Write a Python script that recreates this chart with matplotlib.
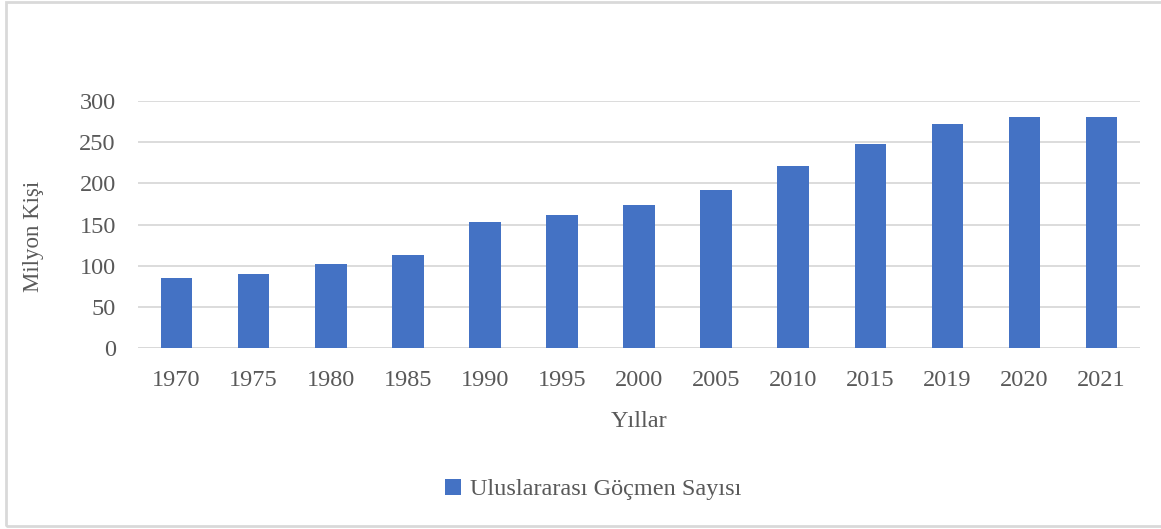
import matplotlib.pyplot as plt
from matplotlib.patches import Rectangle

years = ['1970', '1975', '1980', '1985', '1990', '1995', '2000',
         '2005', '2010', '2015', '2019', '2020', '2021']
migrants = [84.5, 90.4, 101.9, 113.2, 153.0, 161.3, 173.2,
            191.4, 220.8, 247.6, 272.0, 280.6, 281.0]

plt.rcParams['font.family'] = ['Liberation Serif', 'DejaVu Serif']
txt = '#595959'
blue = '#4472C4'
fs = 17.5

fig = plt.figure(figsize=(11.61, 5.29), dpi=100)
ax = fig.add_axes([0.1189, 0.342, 0.8631, 0.467])

x = range(len(years))
ax.bar(x, migrants, width=0.41, color=blue, label='Uluslararası Göçmen Sayısı', zorder=3)

ax.set_xlim(-0.5, len(years) - 0.5)
ax.set_ylim(0, 300)
ax.set_yticks(range(0, 301, 50))
ax.set_xticks(list(x))
ax.set_xticklabels(years)
ax.yaxis.grid(True, color='#D9D9D9', linewidth=1.3, zorder=0)
for s in ax.spines.values():
  s.set_visible(False)
ax.tick_params(axis='both', length=0, labelsize=fs, labelcolor=txt)
ax.tick_params(axis='x', pad=16)
ax.tick_params(axis='y', pad=16)
ax.axhline(0, color='#D9D9D9', linewidth=1.3, zorder=2)

ax.set_xlabel('Yıllar', fontsize=fs, color=txt, labelpad=14)
ax.set_ylabel('Milyon Kişi', fontsize=16.5, color=txt)
ax.yaxis.set_label_coords(-0.094, 0.45)

leg = fig.legend(loc='center', bbox_to_anchor=(0.511, 0.075), frameon=False,
                 fontsize=fs, handlelength=0.65, handleheight=0.65, handletextpad=0.35)
for t in leg.get_texts():
  t.set_color(txt)

# outer chart border
fig.patches.append(Rectangle((0.0055, 0.006), 1.1, 0.99, transform=fig.transFigure,
                             fill=False, edgecolor='#D9D9D9', linewidth=2))

fig.savefig('out.png', dpi=100)
